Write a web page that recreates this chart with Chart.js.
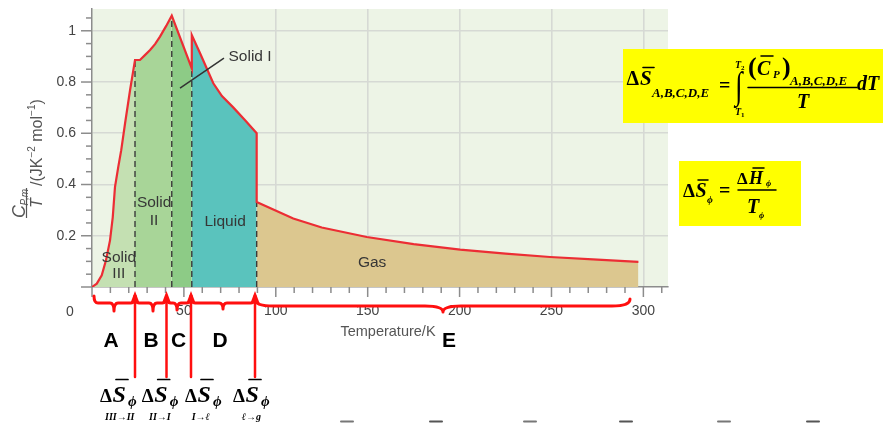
<!DOCTYPE html>
<html><head><meta charset="utf-8">
<script src="https://cdn.jsdelivr.net/npm/chart.js@4"></script>
<style>html,body{margin:0;padding:0;background:#fff;overflow:hidden}#wrap{width:883px;height:423px;position:relative}</style>
</head><body><div id="wrap"><canvas id="c" width="883" height="423"></canvas></div>
<script>
// ---- data (T in K, Cp,m/T in J K^-2 mol^-1) ----
const solidIII_T = [0, 2.6, 5.3, 7.6, 9.8, 11.3, 12.5, 14.3, 15.9, 18.0, 20.7, 23.4];
const solidIII_C = [0, 0.013, 0.046, 0.104, 0.182, 0.273, 0.39, 0.469, 0.534, 0.639, 0.768, 0.886];
const solidII_T = [23.4, 26.1, 28.8, 31.6, 34.3, 37.0, 40.3, 43.4];
const solidII_C = [0.886, 0.886, 0.905, 0.925, 0.948, 0.977, 1.018, 1.059];
const solidI_T = [43.4, 54.3];
const solidI_C = [1.059, 0.853];
const liquid_T = [54.3, 58.8, 66.0, 70.7, 76.7, 83.3, 89.6];
const liquid_C = [0.983, 0.912, 0.795, 0.745, 0.702, 0.651, 0.600];
const gas_T = [89.6, 109.5, 125, 149.5, 175, 200.3, 225, 249.2, 275, 297.3];
const gas_C = [0.332, 0.267, 0.232, 0.195, 0.167, 0.146, 0.130, 0.117, 0.107, 0.098];
const xTickLabels = ['50', '100', '150', '200', '250', '300'];
const yTickLabels = ['0.2', '0.4', '0.6', '0.8', '1'];
const regionLabels = [
  {lines: ['Solid', 'III'], T: 14.6, C: [0.116, 0.05]},
  {lines: ['Solid', 'II'], T: 33.8, C: [0.327, 0.257]},
  {lines: ['Solid I'], T: 86, C: [0.897]},
  {lines: ['Liquid'], T: 72.4, C: [0.253]},
  {lines: ['Gas'], T: 152.4, C: [0.096]}
];
const stepLetters = ['A', 'B', 'C', 'D', 'E'];
const transitionSubs = ['III\u2192II', 'II\u2192I', 'I\u2192\u2113', '\u2113\u2192g'];

const SANS = 'Arial, "Liberation Sans", Helvetica, sans-serif';
const SERIF = '"Liberation Serif", "Times New Roman", "DejaVu Serif", serif';

const toPts = (T, C) => T.map((t, i) => ({x: t, y: C[i]}));
const regions = [
  {T: solidIII_T, C: solidIII_C, color: '#c4e0b2'},
  {T: solidII_T, C: solidII_C, color: '#a8d598'},
  {T: solidI_T, C: solidI_C, color: '#8dcb86'},
  {T: liquid_T, C: liquid_C, color: '#5ac3bd'},
  {T: gas_T, C: gas_C, color: '#dcc78f'}
];
const curve = regions.flatMap(r => toPts(r.T, r.C));
const boundaries = [];
for (let i = 0; i < regions.length - 1; i++) {
  const a = regions[i], b = regions[i + 1];
  const t = a.T[a.T.length - 1];
  boundaries.push([{x: t, y: 0}, {x: t, y: Math.min(a.C[a.C.length - 1], b.C[0])}]);
}

const datasets = [
  {data: curve, borderColor: '#ec2d34', borderWidth: 2.2, fill: false, pointRadius: 0},
  ...boundaries.map(b => ({data: b, borderColor: '#3a3a3a', borderWidth: 1.4, borderDash: [6, 4], fill: false, pointRadius: 0})),
  ...regions.map(r => ({data: toPts(r.T, r.C), backgroundColor: r.color, borderColor: 'rgba(0,0,0,0)', borderWidth: 0, fill: 'origin', pointRadius: 0}))
];

function txt(ctx, s, x, y, font, color, align) {
  ctx.font = font; ctx.fillStyle = color || '#000'; ctx.textAlign = align || 'left'; ctx.textBaseline = 'alphabetic';
  ctx.fillText(s, x, y); return ctx.measureText(s).width;
}
function seg(ctx, x1, y1, x2, y2, w, color) {
  ctx.beginPath(); ctx.moveTo(x1, y1); ctx.lineTo(x2, y2); ctx.lineWidth = w; ctx.strokeStyle = color || '#000'; ctx.stroke();
}

const plugin = {
  id: 'decor',
  beforeDraw(chart) {
    const {ctx, chartArea: a} = chart;
    ctx.save(); ctx.fillStyle = '#edf4e6'; ctx.fillRect(a.left, a.top, a.right - a.left, a.bottom - a.top); ctx.restore();
  },
  afterDraw(chart) {
    const {ctx, chartArea: a} = chart;
    const xs = chart.scales.x, ys = chart.scales.y;
    ctx.save();
    // tick marks
    ctx.lineCap = 'butt';
    xs.ticks.forEach(t => {
      const px = xs.getPixelForValue(t.value);
      const major = Math.round(t.value) % 50 === 0;
      seg(ctx, px, a.bottom, px, a.bottom + (major ? 10 : 6), 1.5, '#8c8c8c');
    });
    ys.ticks.forEach(t => {
      const py = ys.getPixelForValue(t.value);
      const major = Math.round(t.value * 100) % 20 === 0;
      seg(ctx, a.left, py, a.left - (major ? 11 : 6), py, 1.5, '#8c8c8c');
    });
    // origin label
    txt(ctx, '0', 70, 316, '14px ' + SANS, '#444', 'center');
    // region labels
    regionLabels.forEach(l => {
      l.lines.forEach((s, i) => {
        ctx.font = '15.5px ' + SANS; ctx.fillStyle = '#363636'; ctx.textAlign = 'center'; ctx.textBaseline = 'middle';
        ctx.fillText(s, xs.getPixelForValue(l.T), ys.getPixelForValue(l.C[i]));
      });
    });
    // Solid I leader
    seg(ctx, xs.getPixelForValue(47.9), ys.getPixelForValue(0.776), xs.getPixelForValue(71.8), ys.getPixelForValue(0.893), 1.5, '#333');
    // x title
    txt(ctx, 'Temperature/K', 388, 336, '14.5px ' + SANS, '#555', 'center');
    // y title (rotated)
    ctx.save();
    ctx.translate(42, 218); ctx.rotate(-Math.PI / 2);
    txt(ctx, 'C', 0, -17.5, 'italic 18px ' + SANS, '#555');
    txt(ctx, 'P,m', 12.5, -14, 'italic 10px ' + SANS, '#555');
    seg(ctx, 0, -15.5, 30, -15.5, 1.2, '#555');
    txt(ctx, 'T', 15, 0, 'italic 16px ' + SANS, '#555', 'center');
    let lx = 32;
    lx += txt(ctx, '/(JK', lx, 0, '16px ' + SANS, '#555');
    lx += txt(ctx, '\u22122', lx, -7, '10px ' + SANS, '#555');
    lx += txt(ctx, ' mol', lx, 0, '16px ' + SANS, '#555');
    lx += txt(ctx, '\u22121', lx, -7, '10px ' + SANS, '#555');
    txt(ctx, ')', lx, 0, '16px ' + SANS, '#555');
    ctx.restore();

    // red braces
    const RED = '#ff0f0f';
    ctx.strokeStyle = RED; ctx.lineWidth = 3; ctx.lineJoin = 'round'; ctx.lineCap = 'round';
    function brace(x1, x2, xm, yTop, yMid, yDip, r) {
      ctx.beginPath();
      ctx.moveTo(x1, yTop);
      ctx.quadraticCurveTo(x1, yMid, x1 + r, yMid);
      ctx.lineTo(xm - r, yMid);
      ctx.quadraticCurveTo(xm, yMid, xm, yDip);
      ctx.quadraticCurveTo(xm, yMid, xm + r, yMid);
      ctx.lineTo(x2 - r, yMid);
      ctx.quadraticCurveTo(x2, yMid, x2, yTop);
      ctx.stroke();
    }
    brace(94, 135, 114, 296, 303, 311, 4);
    brace(135, 166.5, 153, 296, 303, 311, 4);
    brace(166.5, 191, 177, 296, 303, 310, 4);
    brace(191, 255, 223, 296, 303, 309, 4);
    brace(255, 630, 443, 299, 306, 312, 18);
    // arrows
    [135, 166.5, 191, 255].forEach(x => {
      seg(ctx, x, 377, x, 300, 2.5, RED);
      ctx.beginPath(); ctx.moveTo(x, 291); ctx.lineTo(x - 4.5, 303); ctx.lineTo(x + 4.5, 303); ctx.closePath();
      ctx.fillStyle = RED; ctx.fill();
    });
    // step letters
    [111, 151, 178.5, 220, 449].forEach((x, i) => txt(ctx, stepLetters[i], x, 347, 'bold 21px ' + SANS, '#000', 'center'));
    // transition entropy labels
    [[100, 105], [141.7, 149], [185, 191.7], [233, 241.7]].forEach(([x, sx], i) => {
      txt(ctx, '\u0394', x, 401.5, 'bold 19px ' + SERIF, '#000');
      txt(ctx, 'S', x + 12.5, 401.5, 'bold italic 24px ' + SERIF, '#000');
      seg(ctx, x + 16, 379.5, x + 28, 379.5, 1.7, '#000');
      txt(ctx, '\u03d5', x + 28, 406, 'bold italic 15px ' + SERIF, '#000');
      txt(ctx, transitionSubs[i], sx, 420, 'bold italic 10px ' + SERIF, '#000');
    });
    // bottom cut-off marks
    [347, 436, 530, 626, 724, 813].forEach((x, i) => seg(ctx, x - 6, 421.5, x + 6, 421.5, 2, i % 2 ? '#555' : '#777'));

    // formula box 1
    ctx.fillStyle = '#ffff00'; ctx.fillRect(623, 49, 260, 74);
    txt(ctx, '\u0394', 626.5, 85, 'bold 20px ' + SERIF);
    txt(ctx, 'S', 640, 85, 'bold italic 21px ' + SERIF);
    seg(ctx, 643, 67.5, 654, 67.5, 1.6);
    txt(ctx, 'A,B,C,D,E', 652, 97, 'bold italic 13px ' + SERIF);
    txt(ctx, '=', 719, 92, 'bold 20px ' + SERIF);
    ctx.save(); ctx.translate(735, 98); ctx.scale(1, 1.4);
    txt(ctx, '\u222b', 0, 0, 'bold 27px ' + SERIF); ctx.restore();
    txt(ctx, 'T', 735, 68, 'bold italic 10px ' + SERIF); txt(ctx, '2', 741, 70, 'bold 7px ' + SERIF);
    txt(ctx, 'T', 735, 115, 'bold italic 10px ' + SERIF); txt(ctx, '1', 741, 117, 'bold 7px ' + SERIF);
    txt(ctx, '(', 748, 75, 'bold 26px ' + SERIF);
    txt(ctx, 'C', 757, 75, 'bold italic 20px ' + SERIF);
    seg(ctx, 761, 56, 773, 56, 1.5);
    txt(ctx, 'P', 773, 78, 'bold italic 11px ' + SERIF);
    txt(ctx, ')', 782, 75, 'bold 26px ' + SERIF);
    txt(ctx, 'A,B,C,D,E', 790, 85, 'bold italic 13px ' + SERIF);
    seg(ctx, 748, 87.5, 857, 87.5, 1.5);
    txt(ctx, 'T', 803, 108, 'bold italic 20px ' + SERIF, '#000', 'center');
    txt(ctx, 'dT', 857, 90, 'bold italic 20px ' + SERIF);

    // formula box 2
    ctx.fillStyle = '#ffff00'; ctx.fillRect(679, 161, 122, 65);
    txt(ctx, '\u0394', 683, 197, 'bold 19px ' + SERIF);
    txt(ctx, 'S', 695.5, 197, 'bold italic 20px ' + SERIF);
    seg(ctx, 698, 180, 708, 180, 1.5);
    txt(ctx, '\u03d5', 707, 203, 'bold italic 10px ' + SERIF);
    txt(ctx, '=', 719, 197, 'bold 20px ' + SERIF);
    txt(ctx, '\u0394', 737, 184, 'bold 17px ' + SERIF);
    txt(ctx, 'H', 749, 184, 'bold italic 18px ' + SERIF);
    seg(ctx, 753, 168, 764, 168, 1.5);
    txt(ctx, '\u03d5', 766, 186, 'bold italic 9px ' + SERIF);
    seg(ctx, 738, 190, 776, 190, 1.5);
    txt(ctx, 'T', 747, 213, 'bold italic 20px ' + SERIF);
    txt(ctx, '\u03d5', 759, 218, 'bold italic 9px ' + SERIF);
    ctx.restore();
  }
};

new Chart(document.getElementById('c'), {
  type: 'line',
  data: {datasets},
  plugins: [plugin],
  options: {
    responsive: false, animation: false, devicePixelRatio: 1,
    layout: {padding: {left: 0, right: 215, top: 9, bottom: 96}},
    plugins: {legend: {display: false}, tooltip: {enabled: false}},
    elements: {line: {tension: 0}},
    scales: {
      x: {
        type: 'linear', min: 0, max: 313.4,
        afterFit: s => { s.height = 40; s.paddingLeft = 0; s.paddingRight = 0; },
        border: {display: true, color: '#8c8c8c', width: 1.5},
        grid: {drawTicks: false, lineWidth: 1.6, color: c => (Math.round(c.tick.value) % 50 === 0 && c.tick.value > 0) ? '#d6d9d4' : 'rgba(0,0,0,0)'},
        ticks: {stepSize: 10, includeBounds: false, autoSkip: false, maxRotation: 0, padding: 16, color: '#444',
          font: {family: SANS, size: 14},
          callback: v => { const r = Math.round(v); return (r % 50 === 0 && r > 0) ? xTickLabels[r / 50 - 1] : ''; }}
      },
      y: {
        type: 'linear', min: 0, max: 1.085,
        afterFit: s => { s.width = 92; s.paddingTop = 0; s.paddingBottom = 0; },
        border: {display: true, color: '#8c8c8c', width: 1.5},
        grid: {drawTicks: false, lineWidth: 1.6, color: c => { const k = Math.round(c.tick.value * 100); return (k % 20 === 0 && k > 0) ? '#d6d9d4' : 'rgba(0,0,0,0)'; }},
        ticks: {stepSize: 0.05, includeBounds: false, autoSkip: false, padding: 16, color: '#444',
          font: {family: SANS, size: 14},
          callback: v => { const k = Math.round(v * 100); return (k % 20 === 0 && k > 0) ? yTickLabels[k / 20 - 1] : ''; }}
      }
    }
  }
});
</script></body></html>
